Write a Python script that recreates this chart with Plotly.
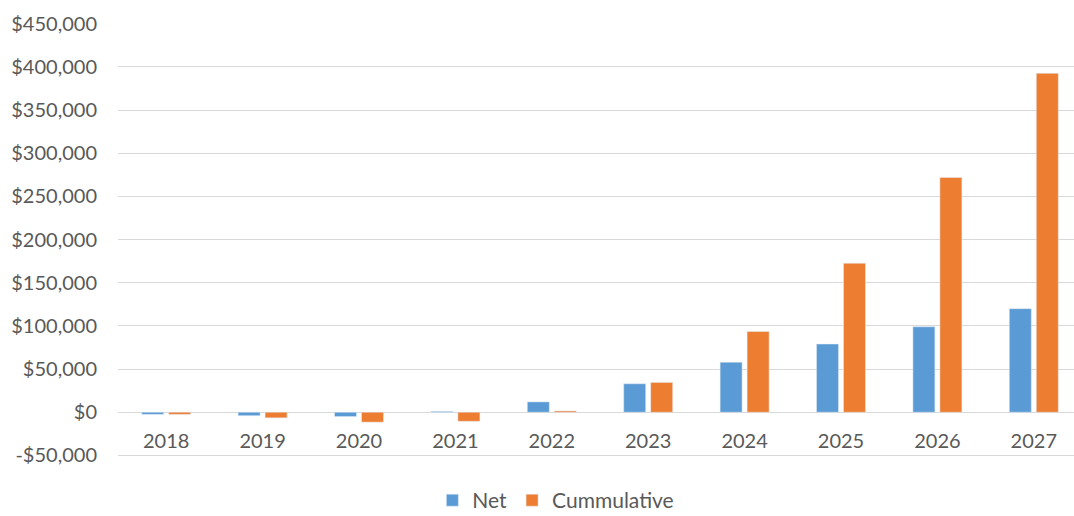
import plotly.graph_objects as go

years = ["2018", "2019", "2020", "2021", "2022", "2023", "2024", "2025", "2026", "2027"]
net = [-2500, -4000, -5000, 1000, 12000, 33000, 58000, 79000, 99000, 120000]
cumulative = [-2500, -6500, -11500, -10500, 1500, 34500, 93500, 172500, 272000, 392500]
y_tick_vals = [-50000, 0, 50000, 100000, 150000, 200000, 250000, 300000, 350000, 400000, 450000]
y_tick_text = ["-$50,000", "$0", "$50,000", "$100,000", "$150,000", "$200,000",
               "$250,000", "$300,000", "$350,000", "$400,000", "$450,000"]

FONT = "Lato, Carlito, Calibri, sans-serif"
GREY = "#595959"
Y_MIN, Y_MAX = -53000, 450800

fig = go.Figure()
fig.add_trace(go.Bar(x=years, y=net, name="Net", marker_color="#5B9BD5"))
fig.add_trace(go.Bar(x=years, y=cumulative, name="Cummulative", marker_color="#ED7D31"))

fig.update_layout(
    width=1074, height=516,
    margin=dict(l=118, r=0, t=23, b=58, autoexpand=False),
    paper_bgcolor="white", plot_bgcolor="white",
    barmode="group", bargap=0.44, bargroupgap=0.185,
    font=dict(family=FONT, size=20, color=GREY),
    showlegend=True,
    legend=dict(orientation="h", x=0.458, xanchor="center",
                yref="container", y=0.03, yanchor="middle",
                font=dict(family=FONT, size=21, color=GREY), itemwidth=30,
                traceorder="normal"),
    xaxis=dict(type="category", range=[-0.5, 9.417], anchor="free",
               position=(0 - Y_MIN) / (Y_MAX - Y_MIN),
               showgrid=False, showline=False, zeroline=False,
               ticks="outside", ticklen=11, tickcolor="rgba(0,0,0,0)",
               tickfont=dict(family=FONT, size=20, color=GREY)),
    yaxis=dict(range=[Y_MIN, Y_MAX], tickvals=y_tick_vals, ticktext=y_tick_text,
               showgrid=True, gridcolor="#D9D9D9", gridwidth=1.3,
               zeroline=True, zerolinecolor="#D9D9D9", zerolinewidth=1.3,
               showline=False, ticks="", ticklabelstandoff=20,
               tickfont=dict(family=FONT, size=20, color=GREY)),
)

fig.write_html("out.html")
